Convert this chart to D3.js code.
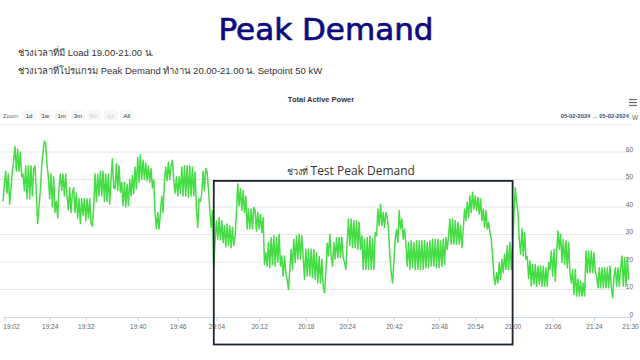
<!doctype html>
<html>
<head>
<meta charset="utf-8">
<script src="https://cdn.jsdelivr.net/npm/d3@7"></script>
<style>
  body { margin: 0; background: #fff; }
  svg text { font-family: "Liberation Sans", Arial, sans-serif; }
</style>
</head>
<body>
<script>
// Total active power (kW), one sample per step
const power = [
  42,48,53,45,52,41,47,53,57,62, 53,61,53,60,51,52,46,55,43,55,
  43,55,44,54,55,45,34,40,46,55, 60,64,63,55,51,43,52,40,51,38,
  42,36,47,52,46,52,44,52,44,39, 47,38,45,47,38,45,36,43,34,43,
  37,43,35,43,36,43,34,33,40,52, 42,52,44,53,44,53,42,52,42,52,
  41,
  50,57.5,47,46.6,55.7,46,55,45.4,49,40.5, 49,40,48.4,40.5,50,44,51.5,44.8,54.5,46.6,
  58,49,59,50,57,50,56,49.6,55,49, 53.9,47,50,38,32,38,32,38,44,38,
  49,54.5,49.6,56.3,50,55,57,49.6,45,51, 44,51,45,54.5,44,55,44,55,43.5,55,
  44,54.5,44,52.7,39,32.6,43,42,45,53, 46,54,52.7,46.6,39,32.6,38.6,
  18.5,28,35,28.3,36.2,28,35,27,33.2,25.5, 33.8,26,33.2,25.2,32.6,26,29.5,38,48.4,40.5,
  46.6,38.7,46,38,44,32,39.3,32,39.3,32, 39.9,38.7,31.3,38,32,37.4,30.7,36.2,19.1,23.4,
  18.5,27.1,17.9,28.9,19.1,29.5,18.5,28.9,19.8,30.1, 18.5,22.2,14.9,22.2,16.1,13.7,10,17.3,24.6,17.3,
  28.3,19.8,29.5,21,30.1,21,29.5,22.2,13.7,24.6, 14.9,24.6,14.9,24.6,14.3,24.6,13.7,23.4,12.4,
  22,12.4,21,11.2,8.8,16.1,26.8,22.2,30.1,22.2, 18.5,27.1,21,28.9,21.6,28.9,21.6,28.9,21.6,19.8,
  17.3,27.1,35.6,25.9,35.6,25.2,35,25.2,35,24.6, 34.4,24.6,29.5,17.3,28.3,17.3,28.9,17.3,29.5,17.3,
  28.3,17.3,30.7,29.5,39.3,33.2,41,33.2,38,32.6, 38,36.2,32,22.2,16.1,12.4,19.8,28.3,31.7,27.1,
  38.7,32,35.6,28.3,32,26.5,18.5,27.1,17.3,27.7, 17.9,27.1,17.3,27.7,17.3,27.7,17.3,27.7,17.3,
  27.7,17.9,27.1,17.9,27.7,18.5,28.3,18.5,28.3,17.9, 28.3,17.9,27.7,18.5,28.3,19.1,28.9,24.6,29.5,35.6,
  26.5,35.6,26.5,35,26.5,34.4,26.5,33.2,25.2,32, 39.3,35,41.7,36.2,44.1,38,45.4,39.3,44.1,38.7,
  43.5,37.4,42.9,35,39.3,32.6,38.7,32,34.4,30.7, 28.3,22.2,14.9,11.8,16.1,12.4,19.8,13.7,21,16.1,
  22.8,17.3,25.9,17.3,27.1,17.3,25.9,36.8,47,42, 38,28.3,22.8,32,22.2,30.7,21,22,14,
  20.4,11.2,19.1,11.8,19.1,11.2,18.5,11.8,18.5,11.2, 18.5,11.2,17.9,11.2,19.8,17.3,24,14.9,24.6,13,
  23.4,31.3,24.6,30.1,19.8,28.3,19.1,27.7,17.9,27.1, 16.1,12.4,17.3,8.2,17.3,7.6,13.7,7.6,13,7.6,
  12.4,7.6,24,16.1,24,16.1,24,16.1,23.4,16.1, 14.9,10.6,17.9,10.6,17.9,10.6,17.9,10.6,17.9,10.6,
  18.5,10.6,7,14.9,17.9,11.2,17.9,11.2,17.9,22.2, 11.2,21.6,11.2,21.6,13.7
];

// category axis: sample index of each time label
const tickIdx = [1, 35, 62, 101, 131, 160, 192, 227, 258, 293, 327, 354, 382, 412, 443, 470];
const tickLabels = ["19:02", "19:24", "19:32", "19:40", "19:46", "20:04", "20:12", "20:18",
                    "20:24", "20:42", "20:48", "20:54", "21:00", "21:06", "21:24", "21:30"];
const yTicks = [0, 10, 20, 30, 40, 50, 60];
const gridValues = [10, 20, 30, 40, 50, 60, 70];
const zoomButtons = ["1d", "1w", "1m", "3m", "6m", "1y", "All"];
const disabledButtons = ["6m", "1y"];
const dateRange = ["05-02-2024", "05-02-2024"];
// test window: from/to in sample index, top/bottom in kW
const testWindow = {from: 158, to: 382, top: 49.5, bottom: -10};

const width = 640, height = 360;
const x = d3.scaleLinear().domain([0, 470]).range([3, 630]);
const y = d3.scaleLinear().domain([0, 70]).range([317, 124.5]);

const svg = d3.select("body").append("svg")
    .attr("width", width)
    .attr("height", height)
    .style("display", "block");

svg.append("rect").attr("width", width).attr("height", height).attr("fill", "#fff");

// header
svg.append("text")
    .attr("x", 326).attr("y", 40)
    .attr("text-anchor", "middle")
    .style("font-family", "'DejaVu Sans', sans-serif")
    .attr("font-size", 31)
    .attr("fill", "#0c0c80")
    .attr("stroke", "#0c0c80")
    .attr("stroke-width", 0.7)
    .text("Peak Demand");

svg.append("text")
    .attr("x", 18).attr("y", 56)
    .attr("font-size", 9.5).attr("fill", "#333")
    .text("ช่วงเวลาที่มี Load 19.00-21.00 น.");

svg.append("text")
    .attr("x", 18).attr("y", 74)
    .attr("font-size", 9.5).attr("fill", "#333")
    .text("ช่วงเวลาที่โปรแกรม Peak Demand ทำงาน 20.00-21.00 น. Setpoint 50 kW");

// chart title + controls
svg.append("text")
    .attr("x", 321).attr("y", 102)
    .attr("text-anchor", "middle")
    .attr("font-size", 7.5).attr("font-weight", "bold").attr("fill", "#333")
    .text("Total Active Power");

const menu = svg.append("g").attr("stroke", "#666").attr("stroke-width", 1.2);
[99.5, 102.5, 105.5].forEach((yy) => menu.append("line").attr("x1", 629).attr("x2", 637).attr("y1", yy).attr("y2", yy));

svg.append("text")
    .attr("x", 3).attr("y", 117.5)
    .attr("font-size", 6).attr("fill", "#666")
    .text("Zoom");

const btn = svg.append("g").selectAll("g").data(zoomButtons).join("g")
    .attr("transform", (d, i) => `translate(${22 + i * 16.3},110)`);
btn.append("rect").attr("width", 14).attr("height", 10).attr("rx", 1.5).attr("fill", "#f7f7f7");
btn.append("text")
    .attr("x", 7).attr("y", 7.5)
    .attr("text-anchor", "middle")
    .attr("font-size", 6)
    .attr("fill", (d) => disabledButtons.includes(d) ? "#ccc" : "#333")
    .text((d) => d);

svg.append("text")
    .attr("x", 629).attr("y", 118)
    .attr("text-anchor", "end")
    .attr("font-size", 5.8).attr("font-weight", "bold").attr("fill", "#3d4e7c")
    .text(`${dateRange[0]}  →  ${dateRange[1]}`);

svg.append("text")
    .attr("x", 632).attr("y", 120)
    .attr("font-size", 6.5).attr("fill", "#666")
    .text("W");

// grid
svg.append("g").selectAll("line").data(gridValues).join("line")
    .attr("x1", 0).attr("x2", 632)
    .attr("y1", (d) => y(d)).attr("y2", (d) => y(d))
    .attr("stroke", "#e6e6e6").attr("stroke-width", 1);

// x axis
const xAxis = svg.append("g")
    .attr("transform", `translate(0,${y(0)})`)
    .call(d3.axisBottom(x).tickValues(tickIdx).tickFormat((d, i) => tickLabels[i]).tickSize(4).tickPadding(3));
xAxis.select(".domain").attr("stroke", "#ccd6eb").attr("d", `M${x(0)},0.5H${x(470) + 2}`);
xAxis.selectAll(".tick line").attr("stroke", "#ccd6eb");
xAxis.selectAll(".tick text").attr("fill", "#666").attr("font-size", 6.5).style("font-family", "'Liberation Sans', Arial, sans-serif");
// first label sits inside the left edge
xAxis.select(".tick text").attr("text-anchor", "start").attr("dx", -1.5);

// y labels on the right
svg.append("g").selectAll("text").data(yTicks).join("text")
    .attr("x", 633).attr("y", (d) => y(d) - 0.5)
    .attr("text-anchor", "end")
    .attr("font-size", 6.5).attr("fill", "#666")
    .text((d) => d);

// series
const line = d3.line().x((d, i) => x(i)).y((d) => y(d));
svg.append("path")
    .datum(power)
    .attr("fill", "none")
    .attr("stroke", "#46dc46")
    .attr("stroke-width", 1.5)
    .attr("stroke-linejoin", "round")
    .attr("d", line);

// test window annotation
svg.append("rect")
    .attr("x", x(testWindow.from))
    .attr("y", y(testWindow.top))
    .attr("width", x(testWindow.to) - x(testWindow.from))
    .attr("height", y(testWindow.bottom) - y(testWindow.top))
    .attr("fill", "none")
    .attr("stroke", "#1b2431")
    .attr("stroke-width", 1.8);

const note = svg.append("text")
    .attr("x", 287).attr("y", 175)
    .attr("fill", "#333");
note.append("tspan").attr("font-size", 9).text("ช่วงที่ ");
note.append("tspan").attr("font-size", 12).style("font-family", "'Open Sans', sans-serif").text("Test Peak Demand");
</script>
</body>
</html>
